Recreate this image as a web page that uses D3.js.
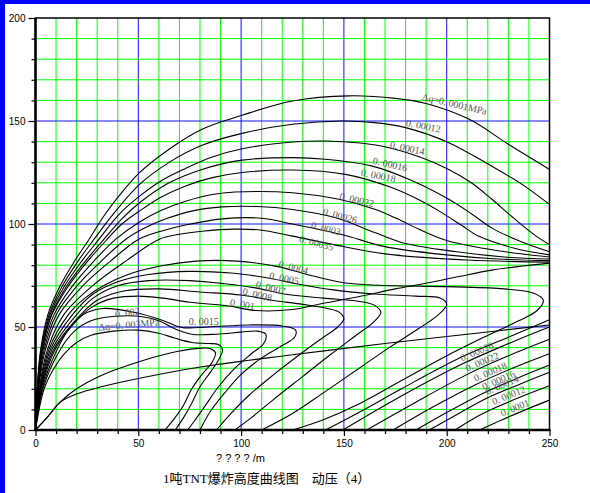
<!DOCTYPE html>
<html>
<head>
<meta charset="utf-8">
<script src="https://cdn.jsdelivr.net/npm/d3@7"></script>
<style>
body{margin:0;background:#fff;}
svg{display:block;}
</style>
</head>
<body>
<script>
// axis ticks
var xTicks = [0, 50, 100, 150, 200, 250];
var yTicks = [0, 50, 100, 150, 200];

// contour lines, [distance, height]
// upper (dome) family
var q0001 = [[0,0],[0.8,20],[2.5,39],[6,56],[12,70],[19,82],[26,92.5],[33,103.5],[40.5,113.5],[50.6,124.9],[64.8,136.2],[81,146],[100.5,152.8],[125,159.7],[152.5,162.2],[175,161],[190,158.5],[211,150.8],[230,138.7],[250,126.5]];
var q00012 = [[0,0],[0.87,20],[2.7,39],[6.6,56],[13.1,70],[20.7,82],[28.4,92.5],[38,105],[50.6,119.2],[64.8,129.8],[81,138.2],[100.5,144],[125,148.4],[149,150],[165,149.2],[180,146.8],[201,139.5],[222,128],[237,119],[250,109.5]];
var q00014 = [[0,0],[0.95,20],[3,39],[7.1,56],[14.2,70],[22.5,82],[30.8,92.5],[40,104],[50.6,113.5],[62,121.5],[73,127],[86,132.5],[100.5,136.5],[125,139.8],[141,140.3],[158,139.3],[172,137],[187,132.5],[201,126.5],[212,120],[222,112],[233,102.5],[243,94.5],[250,90]];
var q00016 = [[0,0],[1,20],[3.2,39],[7.7,56],[15.3,70],[24.3,82],[33.2,92.5],[42,102.5],[50.6,110.3],[65,120],[81,126.5],[100.5,131],[125,132.2],[141,131.4],[163.8,128.1],[181.6,121.7],[201,112],[212,105],[222,98],[236,91.5],[250,86.5]];
var q00018 = [[0,0],[1.07,20],[3.3,39],[8,56],[16.1,70],[25.4,82],[34.8,92.5],[42,100],[50.6,106.3],[61,113],[73,118.5],[86,122.5],[100.5,125],[125,126.2],[150.8,124.1],[173.5,117.6],[186,112],[197.8,105.4],[207,99.5],[215.7,94],[232,88.5],[250,85]];
var q00022 = [[0,0],[1.2,20],[3.7,39],[9,56],[18,70],[28.4,82],[38.9,92.5],[50.6,101],[61,106.5],[73,111],[86,114.3],[97,115.5],[125,115.2],[147.6,112],[165.4,107],[176,102.5],[186.5,97.5],[200,92],[225,87],[250,84]];
var q00026 = [[0,0],[1.35,20],[4.2,39],[10.1,56],[20.2,70],[32,82],[43.8,92.5],[54,98.5],[64.8,103],[77,106.5],[90.8,108.3],[108,108.5],[125,107],[146,103],[165.4,95.7],[180,90.5],[205,86.5],[228,84],[250,83]];
var q0003 = [[0,0],[1.5,20],[4.8,39],[11.5,56],[23,70],[36.5,82],[50,92.5],[61,96.5],[72.9,99.5],[90.8,102.5],[110,102.8],[125,100],[149,94.9],[170,89],[200,85],[225,83],[250,82.2]];
var q00035 = [[0,0],[1.85,20],[5.8,39],[13.8,56],[27.7,70],[43.9,82],[60,92.5],[70,95],[81,96.5],[97,97.5],[110,97],[125,94.1],[145,90],[170,85.5],[210,82.5],[250,81.5]];

// middle family
var q0004 = [[0,0],[2.1,20],[6.5,39],[16,56],[24,64],[33,70],[45,75.5],[60,79.5],[78,82],[98,82],[118,79.3],[132,75.5],[150,71.5],[175,70],[205,69.5],[228,68.5],[242,66.5],[247,63],[244,58],[235,53],[218,45],[198,35],[178,24],[158,13],[140,5],[125,0]];
var q0005 = [[0,0],[2.3,20],[7.2,39],[18,56],[28,66],[40,72],[55,75.5],[75,77],[95,76.2],[113,73.8],[127,71],[145,68],[165,66],[185,65],[197,64],[200,61],[196,56],[186,49],[172,40],[156,29],[140,18],[125,8],[110,0]];
var q0007 = [[0,0],[2.5,20],[8,39],[20,56],[28,64],[40,70],[55,72.5],[75,72.5],[92,71],[107,69],[121,66],[140,64],[157,62.5],[165,60.5],[168,57],[164,52],[156,46],[144,37],[130,26],[116,15],[105,6],[97,0]];
var q0008 = [[0,0],[2.7,20],[8.8,39],[22,56],[30,63],[43,67.5],[60,68.5],[80,67],[100,65.5],[115,63],[130,61],[142,59],[148,57],[150,54],[147,50],[140,45],[129,37],[116,27],[104,17],[95,8],[88,0]];
var q001 = [[0,0],[2.9,20],[9.5,39],[19,52],[28,60],[38,64],[50,65],[62,64],[75,62],[94,60.2],[107,58],[125,58.5],[140,61.5],[157,64.7],[175,68.5],[190,71.2],[206,74.5],[222,77.6],[236,79.5],[250,81]];
var q0015 = [[0,0],[3.2,20],[10.5,39],[17,50],[24,56.5],[33,59],[48.6,57],[61.6,53.3],[71,49.8],[84,50],[104,51],[120,50.5],[126.5,48.5],[126,45],[120,41],[110,35],[100,27],[92,18],[85,9],[80,0]];
var q002 = [[0,0],[3.6,20],[12,39],[19,48],[27,53],[39,55.2],[52,55],[60,53],[68,49],[76,46.5],[88,46.5],[100,47.5],[108,48],[112,46.5],[111,42],[105,37],[97,30],[89,21],[82,11],[77,4],[74,0]];
var q003 = [[0,0],[4.2,20],[9,30],[14,37],[20,42.5],[27,46],[38,48],[50,48.5],[60,47],[68,44.5],[76,42.5],[84,42],[89,41.5],[91,39],[89,34],[85,28],[80,21],[76,13],[72,6],[68,0]];

// the two low lines leaving the origin
var lowLong = [[0,0],[6,6.5],[12,13.5],[20,17.5],[32,21],[50,25],[81,30.7],[125,36.5],[170,42],[210,46.5],[250,51]];
var lowLoop = [[0,0],[6,6.5],[12,13.5],[20,20],[32,26.5],[50,33],[66,37.5],[78,39.5],[85,39.5],[87.5,37.5],[86,33],[81,27],[76,20],[72,12],[67.5,5.5],[63,0]];

// reflected branches in the lower right
var r0001 = [[216,0],[227,5],[240,10.5],[250,14.5]];
var r00012 = [[204,0],[213,5.5],[223,10.5],[237,16.5],[250,21.5]];
var r00014 = [[191.5,0],[205,7.5],[219.7,15.5],[235,22],[250,28]];
var r00016 = [[185,0],[200,8.5],[218,18],[234,25],[250,31.5]];
var r00018 = [[174,0],[193,11],[214,22],[232,30],[250,37]];
var r00022 = [[161,0],[185,13.5],[210,27],[230,36],[250,44]];
var r00026 = [[149.5,0],[178,16.5],[207.5,32],[229,41.5],[250,50]];
var r0003 = [[141,0],[160,10],[178,20],[207.5,35.5],[230,45],[250,53.5]];

var allLines = [q0001,q00012,q00014,q00016,q00018,q00022,q00026,q0003,q00035,
  q0004,q0005,q0007,q0008,q001,q0015,q002,q003,lowLong,lowLoop,
  r0001,r00012,r00014,r00016,r00018,r00022,r00026,r0003];

// contour labels: text, distance, height, angle
var labelText = ["\u0394q=0. 0001MPa","0. 00012","0. 00014","0. 00016","0. 00018","0. 00022","0. 00026","0. 0003","0. 00035",
  "0. 0004","0. 0005","0. 0007","0. 0008","0. 001","0. 0015","0. 002","\u0394q=0. 003MPa",
  "0. 00026","0. 00022","0. 00018","0. 00016","0. 00014","0. 00012","0. 0001"];
var labelX = [187.8,180,172.2,163.8,158.1,147.6,139.5,133.8,128, 118,113.4,106.9,100.4,94.4,74.5,38.9,30.8, 207.5,210,214,218,219.7,222.9,227];
var labelY = [160.2,147.6,137,129.3,123.6,112,104.6,98.2,91.4, 79.3,73.6,69.2,65.9,60.4,50.9,54.6,48.2, 33.2,28.3,23.4,19.4,17,12.1,6.5];
var labelAngle = [13,11,12,13,12,13,15,15,15, 15,12,14,14,10,0,-8,-5, -23,-23,-23,-23,-23,-22,-22];

var W = 590, H = 493;
var x = d3.scaleLinear().domain([0,250]).range([35.5,549.5]);
var y = d3.scaleLinear().domain([0,200]).range([430,18]);

var svg = d3.select("body").append("svg").attr("width",W).attr("height",H);

//blue strips of the window frame
svg.append("rect").attr("x",0).attr("y",0).attr("width",W).attr("height",4).attr("fill","#0000ff");
svg.append("rect").attr("x",0).attr("y",0).attr("width",5).attr("height",H).attr("fill","#0000ff");

//grid, green every 10, blue every 50
var gx = d3.range(10,250,10), gy = d3.range(10,200,10);
svg.append("g").selectAll("line").data(gx).join("line")
  .attr("x1",d=>x(d)).attr("x2",d=>x(d)).attr("y1",y(0)).attr("y2",y(200))
  .attr("stroke",d=>d%50===0?"#1010ff":"#00ff00").attr("stroke-width",1);
svg.append("g").selectAll("line").data(gy).join("line")
  .attr("y1",d=>y(d)).attr("y2",d=>y(d)).attr("x1",x(0)).attr("x2",x(250))
  .attr("stroke",d=>d%50===0?"#1010ff":"#00ff00").attr("stroke-width",1);

//contours
svg.append("clipPath").attr("id","plot").append("rect")
  .attr("x",x(0)).attr("y",y(200)).attr("width",x(250)-x(0)).attr("height",y(0)-y(200));
var line = d3.line().x(d=>x(d[0])).y(d=>y(d[1])).curve(d3.curveCatmullRom.alpha(0.5));
svg.append("g").attr("clip-path","url(#plot)").selectAll("path").data(allLines).join("path")
  .attr("d",line).attr("fill","none").attr("stroke","#000").attr("stroke-width",1.1);

//labels on the lines
svg.append("g").selectAll("text").data(labelText).join("text")
  .attr("transform",(d,i)=>"translate("+x(labelX[i])+","+y(labelY[i])+") rotate("+labelAngle[i]+")")
  .text(d=>d)
  .attr("font-family","'Liberation Serif','DejaVu Serif',serif").attr("font-size","10px").attr("fill","#555");

//frame
svg.append("rect").attr("x",x(0)).attr("y",y(200)).attr("width",x(250)-x(0)).attr("height",y(0)-y(200))
  .attr("fill","none").attr("stroke","#000").attr("stroke-width",1.5);
svg.append("line").attr("x1",x(0)).attr("x2",x(0)).attr("y1",y(0)+1).attr("y2",y(200)).attr("stroke","#000").attr("stroke-width",2.5);
svg.append("line").attr("x1",x(0)-1).attr("x2",x(250)+1).attr("y1",y(0)).attr("y2",y(0)).attr("stroke","#000").attr("stroke-width",2.5);

//axes
function styleAxis(g){
  g.select(".domain").remove();
  g.selectAll("line").attr("stroke","#000").attr("stroke-width",1.2);
  g.selectAll("text").attr("font-family","'Liberation Sans',Arial,sans-serif").attr("font-size","10px").attr("fill","#000");
}
svg.append("g").attr("transform","translate("+x(0)+",0)")
  .call(d3.axisLeft(y).tickValues(gy.filter(d=>d%50)).tickSize(4).tickFormat(""))
  .call(styleAxis);
svg.append("g").attr("transform","translate("+x(0)+",0)")
  .call(d3.axisLeft(y).tickValues(yTicks).tickSize(7).tickPadding(3))
  .call(styleAxis);
svg.append("g").attr("transform","translate(0,"+y(0)+")")
  .call(d3.axisBottom(x).tickValues(gx.filter(d=>d%50)).tickSize(4).tickFormat(""))
  .call(styleAxis);
svg.append("g").attr("transform","translate(0,"+y(0)+")")
  .call(d3.axisBottom(x).tickValues(xTicks).tickSize(6).tickPadding(4))
  .call(styleAxis);

//axis title and chart title
svg.append("text").attr("x",216).attr("y",462).text("? ? ? ? /m")
  .attr("font-family","'Liberation Sans',Arial,sans-serif").attr("font-size","11px");
svg.append("text").attr("x",163).attr("y",483).text("1吨TNT爆炸高度曲线图\u3000动压（4）")
  .attr("font-family","'Liberation Serif','Noto Sans CJK SC',serif").attr("font-size","13px");
</script>
</body>
</html>
